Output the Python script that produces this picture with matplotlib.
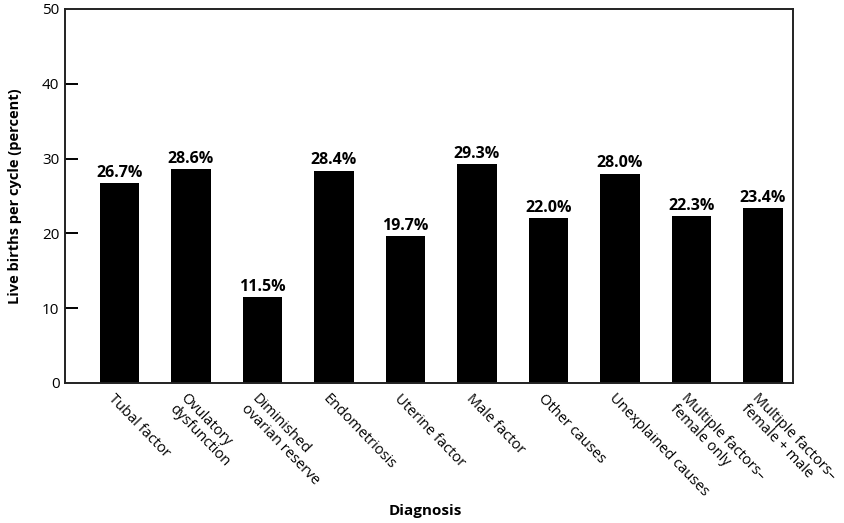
import matplotlib.pyplot as plt
import matplotlib.transforms as mtransforms
import numpy as np

plt.rcParams['font.family'] = ['Open Sans', 'DejaVu Sans']

diagnoses = ['Tubal factor', 'Ovulatory\ndysfunction', 'Diminished\novarian reserve',
             'Endometriosis', 'Uterine factor', 'Male factor', 'Other causes',
             'Unexplained causes', 'Multiple factors\u2013\nfemale only',
             'Multiple factors\u2013\nfemale + male']
live_births = [26.7, 28.6, 11.5, 28.4, 19.7, 29.3, 22.0, 28.0, 22.3, 23.4]
yticks = [0, 10, 20, 30, 40, 50]

fig = plt.figure(figsize=[8.45, 5.23], dpi=100)
ax = fig.add_axes([0.0769, 0.2677, 0.8616, 0.7151])

x = np.arange(len(live_births))
ax.bar(x, live_births, width=0.55, color='black')

for xi, v in zip(x, live_births):
    ax.annotate(f'{v:.1f}%', (xi, v), xytext=(0, 1.5), textcoords='offset points',
                ha='center', va='bottom', fontsize=11.5, fontweight='bold')

ax.set_xlim(-0.76, 9.42)
ax.set_ylim(0, 50)
ax.set_yticks(yticks)
ax.tick_params(axis='y', direction='in', length=9, width=1.4, pad=4, labelsize=11)
for t in (ax.yaxis.get_major_ticks()[0], ax.yaxis.get_major_ticks()[-1]):
    t.tick1line.set_visible(False)
ax.set_xticks([])

# rotated category labels hanging below each bar
offset = mtransforms.ScaledTranslation(-3 / 100, -8 / 100, fig.dpi_scale_trans)
for xi, name in zip(x, diagnoses):
    ax.text(xi, 0, name, transform=ax.transData + offset, rotation=-46,
            rotation_mode='anchor', ha='left', va='top', fontsize=10.5,
            linespacing=1.0)

for s in ax.spines.values():
    s.set_linewidth(1.4)
    s.set_color('#222222')

fig.text(0.0178, 0.625, 'Live births per cycle (percent)', rotation=90,
         ha='center', va='center', fontsize=10.5, fontweight='bold')
fig.text(0.503, 0.023, 'Diagnosis', ha='center', va='center',
         fontsize=11, fontweight='bold')

plt.savefig('out.png', dpi=100)
